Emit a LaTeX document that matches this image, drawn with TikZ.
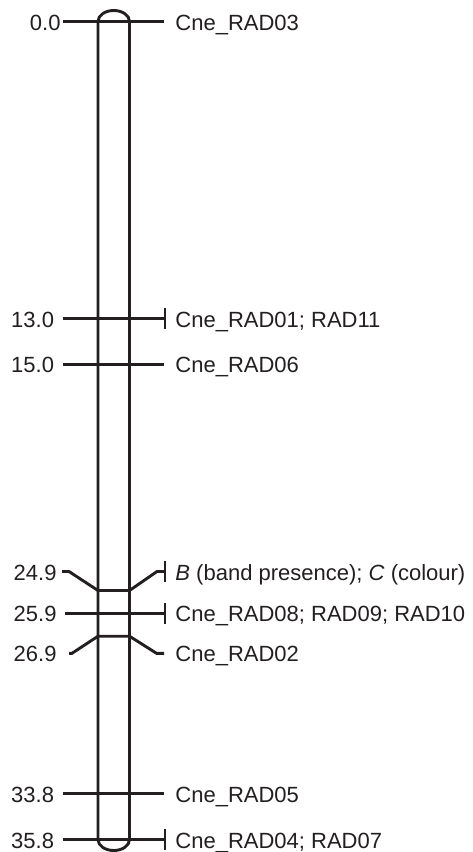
\documentclass[tikz,border=0pt]{standalone}
\usepackage{fontspec}
\setmainfont{Liberation Sans}
\definecolor{ink}{HTML}{231F20}
\begin{document}
\begin{tikzpicture}[x=1bp,y=-1bp,color=ink,line width=2.9bp,
  lbl/.style={inner sep=0pt,font=\fontsize{22.08}{26.5}\selectfont,text=ink},
  leftlbl/.style={lbl,anchor=base east},
  rightlbl/.style={lbl,anchor=base west},
  mapline/.style={line width=2.9bp,line join=miter},
  chrom/.style={line width=2.9bp}]
\useasboundingbox (0,0) rectangle (473,852);

% chromosome outline with elliptical caps
\draw[chrom] (98,21.5) -- (98,839.5)
  arc[start angle=180,end angle=0,x radius=15.75,y radius=11]
  -- (129.5,21.5)
  arc[start angle=0,end angle=-180,x radius=15.75,y radius=11] -- cycle;

% 0.0
\coordinate (l00) at (63,21.5);  \coordinate (r00) at (164,21.5);
\node[leftlbl]  (t00) at (62,30) {0.0};
\node[rightlbl] (m00) at (174,30) {Cne\_RAD03};
\draw[mapline] (l00) -- (r00);

% 13.0
\coordinate (l13) at (63,318.5); \coordinate (r13) at (165,318.5);
\node[leftlbl]  (t13) at (55.5,327) {13.0};
\node[rightlbl] (m13) at (174,327) {Cne\_RAD01; RAD11};
\draw[mapline] (l13) -- (r13);
\draw[mapline] ([yshift=10.5bp]r13) -- ([yshift=-10.5bp]r13);

% 15.0
\coordinate (l15) at (63,364.3); \coordinate (r15) at (164,364.3);
\node[leftlbl]  (t15) at (55.5,372.8) {15.0};
\node[rightlbl] (m15) at (174,372.8) {Cne\_RAD06};
\draw[mapline] (l15) -- (r15);

% 24.9 (label raised, bent connector)
\coordinate (l249) at (62,571.5);  \coordinate (l249b) at (69,571.5);
\coordinate (c249l) at (98,590.5); \coordinate (c249r) at (129.5,590.5);
\coordinate (r249b) at (157,571.5); \coordinate (r249) at (165,571.5);
\node[leftlbl]  (t249) at (58,580.5) {24.9};
\node[rightlbl] (m249) at (174,580.5) {\textit{B} (band presence); \textit{C} (colour)};
\draw[mapline] (l249) -- (l249b) -- (c249l) -- (c249r) -- (r249b) -- (r249);
\draw[mapline] ([yshift=10.5bp]r249) -- ([yshift=-10.5bp]r249);

% 25.9
\coordinate (l259) at (65,613.3); \coordinate (r259) at (165,613.3);
\node[leftlbl]  (t259) at (58,621.8) {25.9};
\node[rightlbl] (m259) at (174,621.8) {Cne\_RAD08; RAD09; RAD10};
\draw[mapline] (l259) -- (r259);
\draw[mapline] ([yshift=10.5bp]r259) -- ([yshift=-10.5bp]r259);

% 26.9 (label lowered, bent connector)
\coordinate (l269) at (69,653.3);  \coordinate (l269b) at (72,653.3);
\coordinate (c269l) at (98,636.2); \coordinate (c269r) at (129.5,636.2);
\coordinate (r269b) at (156.5,653.3); \coordinate (r269) at (164,653.3);
\node[leftlbl]  (t269) at (58,661.8) {26.9};
\node[rightlbl] (m269) at (174,661.8) {Cne\_RAD02};
\draw[mapline] (l269) -- (l269b) -- (c269l) -- (c269r) -- (r269b) -- (r269);

% 33.8
\coordinate (l338) at (63,793.8); \coordinate (r338) at (164,793.8);
\node[leftlbl]  (t338) at (55.5,802.3) {33.8};
\node[rightlbl] (m338) at (174,802.3) {Cne\_RAD05};
\draw[mapline] (l338) -- (r338);

% 35.8
\coordinate (l358) at (63,839.5); \coordinate (r358) at (165,839.5);
\node[leftlbl]  (t358) at (55.5,848) {35.8};
\node[rightlbl] (m358) at (174,848) {Cne\_RAD04; RAD07};
\draw[mapline] (l358) -- (r358);
\draw[mapline] ([yshift=10.5bp]r358) -- ([yshift=-10.5bp]r358);
\end{tikzpicture}
\end{document}
